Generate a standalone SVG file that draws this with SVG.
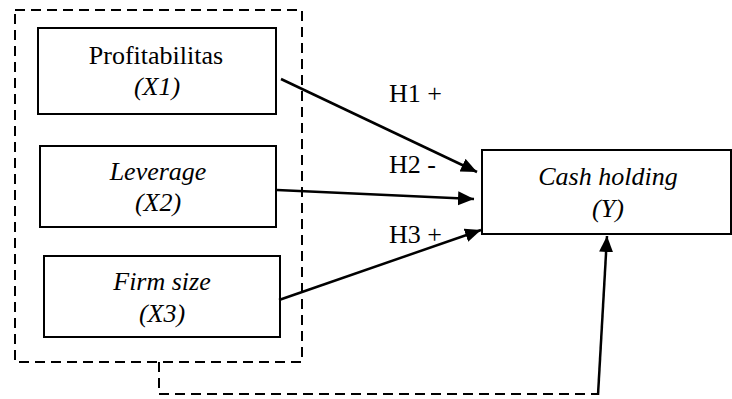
<svg xmlns="http://www.w3.org/2000/svg" width="732" height="399" viewBox="0 0 732 399">
<style>
.box{fill:#fff;stroke:#000;stroke-width:2}
.dash{fill:none;stroke:#000;stroke-width:2;stroke-dasharray:10,6}
.arr{fill:none;stroke:#000;stroke-width:2.5}
text{font-family:'Liberation Serif',Tinos,'Times New Roman',Times,'DejaVu Serif',serif;font-size:26px;fill:#000}
.c{text-anchor:middle}
.i{font-style:italic}
</style>
<defs>
<marker id="ah" markerUnits="userSpaceOnUse" markerWidth="17" markerHeight="15" refX="16" refY="7" orient="auto">
<path d="M0,0 L16,7 L0,14 z" fill="#000"/>
</marker>
</defs>
<rect width="732" height="399" fill="#fff"/>
<g id="group">
<rect class="dash" x="15" y="10" width="287" height="352"/>
</g>
<g id="x1">
<rect class="box" x="38" y="28" width="238" height="86"/>
<text class="c" x="156" y="64">Profitabilitas</text>
<text class="c i" x="157" y="95">(X1)</text>
</g>
<g id="x2">
<rect class="box" x="40" y="146" width="236" height="81"/>
<text class="c i" x="158" y="180">Leverage</text>
<text class="c i" x="158" y="211">(X2)</text>
</g>
<g id="x3">
<rect class="box" x="44" y="256" width="236" height="81"/>
<text class="c i" x="162" y="290">Firm size</text>
<text class="c i" x="162" y="322">(X3)</text>
</g>
<g id="y">
<rect class="box" x="482" y="150" width="249" height="84"/>
<text class="c i" x="608" y="185">Cash holding</text>
<text class="c i" x="608" y="217">(Y)</text>
</g>
<g id="connectors">
<line class="arr" x1="281" y1="79" x2="477" y2="172" marker-end="url(#ah)"/>
<line class="arr" x1="277" y1="190" x2="474" y2="199" marker-end="url(#ah)"/>
<line class="arr" x1="279" y1="300" x2="481" y2="230" marker-end="url(#ah)"/>
<polyline class="dash" points="159,362 159,394 598,394"/>
<line class="arr" x1="598" y1="395" x2="607" y2="236" marker-end="url(#ah)"/>
<text x="389" y="102">H1 +</text>
<text x="389" y="173">H2 -</text>
<text x="389" y="243">H3 +</text>
</g>
</svg>
